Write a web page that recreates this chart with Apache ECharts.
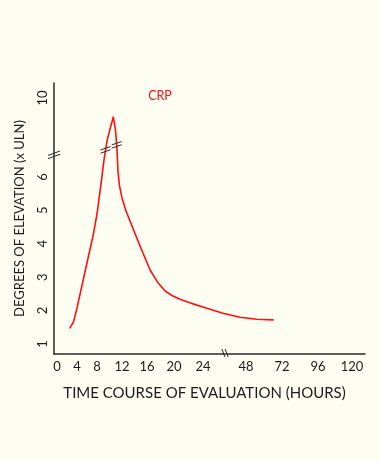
<!DOCTYPE html>
<html><head><meta charset="utf-8">
<script src="https://cdn.jsdelivr.net/npm/echarts@6/dist/echarts.min.js"></script>
<style>html,body{margin:0;padding:0;background:#fefdf1}#c{width:380px;height:460px}</style>
</head><body><div id="c"></div>
<script>
// ---- data (hours, CRP in multiples of ULN) ----
const hours = [2.6,3.3,4.0,5.6,7.2,8.0,8.64,9.12,9.6,10.08,10.61,10.96,11.2,11.36,11.6,12.0,12.64,13.6,14.88,16.44,17.63,18.67,19.7,20.83,22.2,26.2,35.2,44.7,55.3,66.0];
const crp   = [1.48,1.66,2.08,3.16,4.23,4.89,5.79,6.51,8.72,9.07,9.43,9.05,8.45,6.15,5.73,5.37,4.98,4.53,3.93,3.22,2.83,2.59,2.45,2.34,2.23,2.07,1.92,1.80,1.74,1.72];
const xTicks = [0,4,8,12,16,20,24,48,72,96,120];
const yTicks = [1,2,3,4,5,6,10];
const seriesName = 'CRP';
const xTitle = 'TIME COURSE OF EVALUATION (HOURS)';
const yTitle = 'DEGREES OF ELEVATION (x ULN)';

// ---- broken-axis scales ----
// x: hand-drawn tick spacing, broken between 24 and 48 h
const xTickScale = [3,23,43,68,93,120,149,192,228,264,298];
const xBreakAt = 171;
function xs(h){
  for(let i=0;i<xTicks.length-1;i++){
    if(h<=xTicks[i+1]||i===xTicks.length-2){
      const t=(h-xTicks[i])/(xTicks[i+1]-xTicks[i]);
      return xTickScale[i]+t*(xTickScale[i+1]-xTickScale[i]);
    }
  }
}
// y: broken between 6.66 and 8.30
const yBreakLow = 6.66, yBreakHigh = 8.30;
function ys(v){ return v<=yBreakLow ? v : v-(yBreakHigh-yBreakLow); }

const data = hours.map((h,i)=>[xs(h), ys(crp[i])]);
const xPos = xTicks.map(xs), yPos = yTicks.map(ys);
function lab(v, pos, ticks){
  let b=0; for(let i=1;i<pos.length;i++) if(Math.abs(pos[i]-v)<Math.abs(pos[b]-v)) b=i;
  return String(ticks[b]);
}

const FONT = 'Lato';
const INK = '#1c1c1c';
const chart = echarts.init(document.getElementById('c'), null, {renderer:'canvas'});
chart.setOption({
  backgroundColor:'#fefdf1',
  animation:false,
  grid:{left:54,right:15,top:83,bottom:106,containLabel:false,outerBoundsMode:'none'},
  xAxis:{type:'value',min:0,max:311,
    axisLine:{show:true,lineStyle:{color:'#2a2a2a',width:1.5}},
    axisTick:{show:false},splitLine:{show:false},
    axisLabel:{customValues:xPos,formatter:v=>lab(v,xPos,xTicks),color:INK,fontFamily:FONT,fontSize:13,margin:6},
    name:xTitle,nameLocation:'middle',nameGap:32,
    nameTextStyle:{color:INK,fontFamily:FONT,fontSize:15,padding:[0,10,0,0]}
  },
  yAxis:{type:'value',min:0.70,max:8.81,
    axisLine:{show:true,lineStyle:{color:'#2a2a2a',width:1.5}},
    axisTick:{show:false},splitLine:{show:false},
    axisLabel:{customValues:yPos,formatter:v=>lab(v,yPos,yTicks),rotate:90,color:INK,fontFamily:FONT,fontSize:13,margin:5},
    name:yTitle,nameLocation:'middle',nameGap:28,nameRotate:90,
    nameTextStyle:{color:INK,fontFamily:FONT,fontSize:13}
  },
  series:[{type:'line',name:seriesName,data:data,showSymbol:false,smooth:false,
    lineStyle:{color:'#ff1010',width:1.6,join:'round',cap:'round'},z:3}]
});

// break marks (positioned through the chart's scales)
function px(x,y){return chart.convertToPixel({gridIndex:0},[x,y]);}
function pairLines(cx,cy,dx,dy,ox,oy){
  return [-1,1].map(s=>({type:'line',z:10,
    shape:{x1:cx-dx+s*ox,y1:cy-dy+s*oy,x2:cx+dx+s*ox,y2:cy+dy+s*oy},
    style:{stroke:'#2a2a2a',lineWidth:1}}));
}
const g=[];
const yb=px(0,yBreakLow);
g.push(...pairLines(yb[0],yb[1],6,-2.2,0,1.6));
const xb=px(xBreakAt,0.70);
g.push(...pairLines(xb[0],xb[1]-1,-1.5,-4,1.6,0));
// marks on the curve where it crosses the break
const pts=data.map(d=>px(d[0],d[1]));
let peak=0; pts.forEach((p,i)=>{if(p[1]<pts[peak][1]) peak=i;});
function crossX(yPix, rising){
  const from = rising?0:peak, to = rising?peak:pts.length-1;
  for(let i=from;i<to;i++){
    const a=pts[i], b=pts[i+1];
    if((a[1]-yPix)*(b[1]-yPix)<=0){const t=(yPix-a[1])/(b[1]-a[1]); return a[0]+t*(b[0]-a[0]);}
  }
  return pts[peak][0];
}
const ybp=yb[1];
const r1y=ybp-5, r2y=ybp-10;
g.push(...pairLines(crossX(r1y,true),r1y,5,-1.7,0,1.6));
g.push(...pairLines(crossX(r2y,false),r2y,5,-1.7,0,1.6));
g.push({type:'text',z:10,style:{text:seriesName,x:160,y:96,align:'center',verticalAlign:'middle',
  fill:'#ff1010',font:'12.5px '+FONT}});
chart.setOption({graphic:g});
</script></body></html>
